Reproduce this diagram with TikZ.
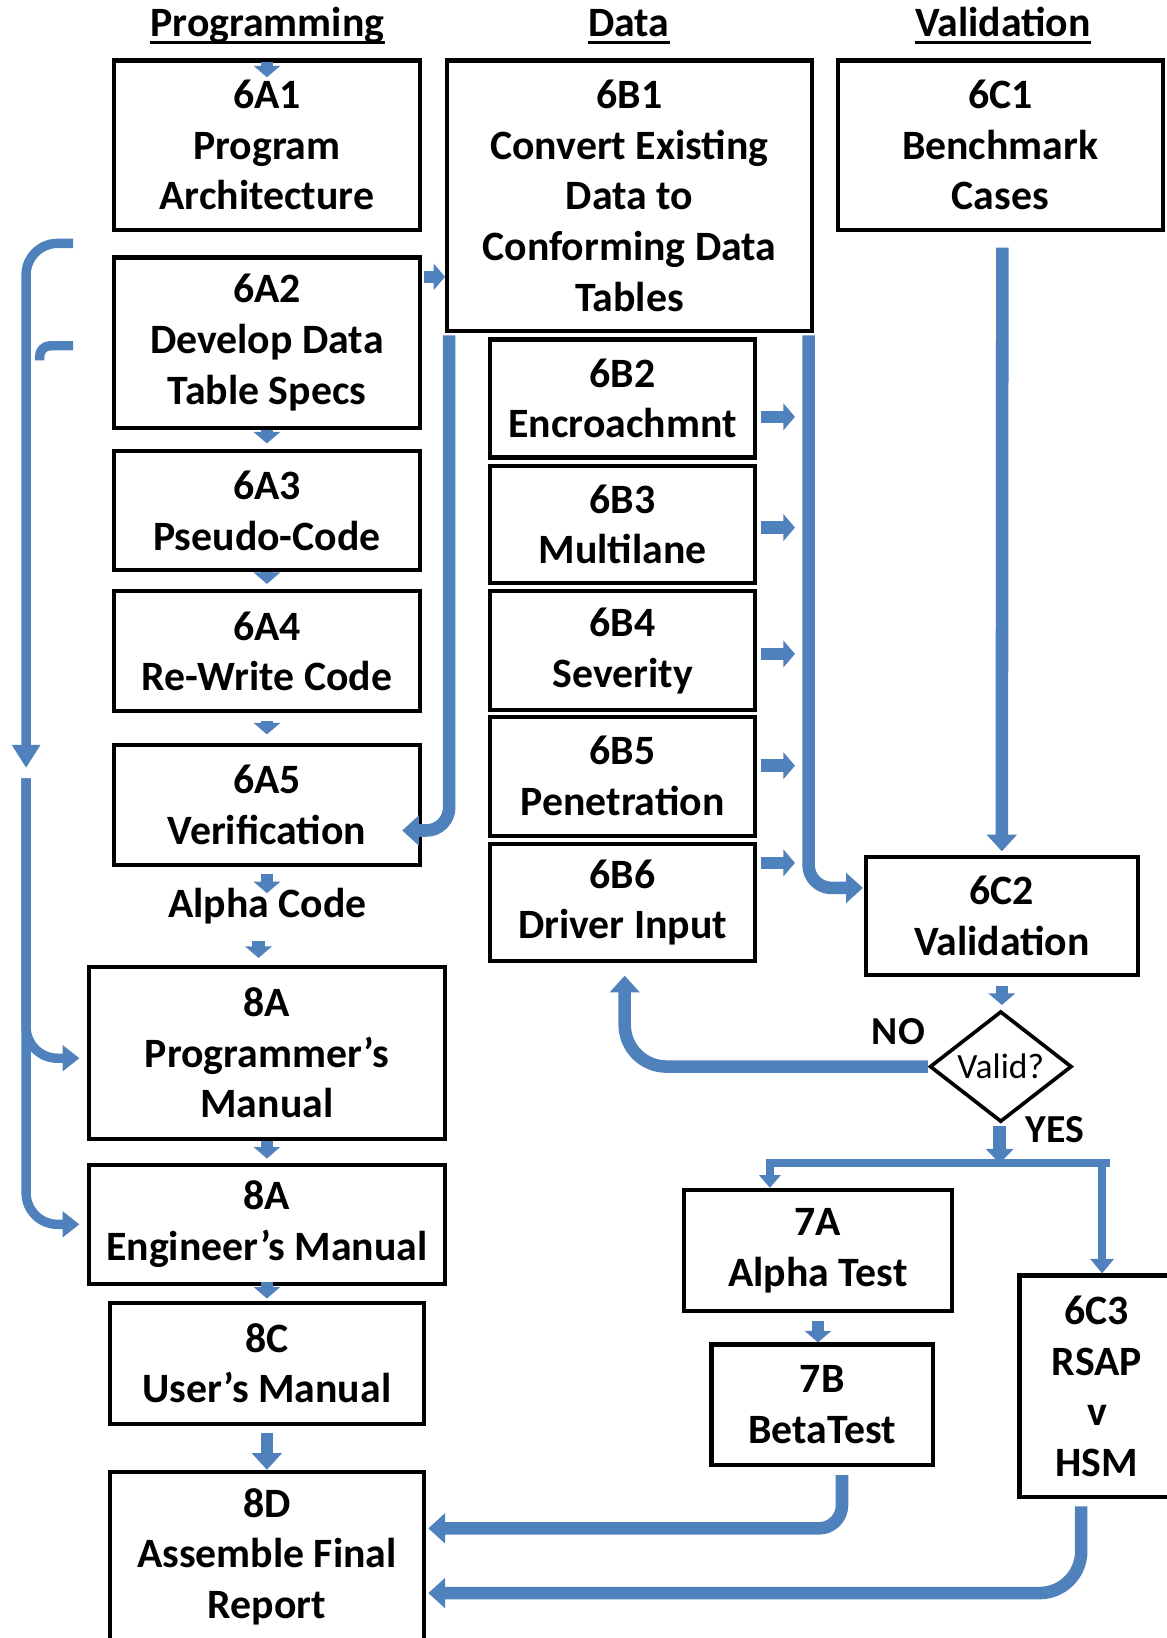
\documentclass[tikz,border=0pt]{standalone}
\usepackage{fontspec}
\setmainfont{Carlito}
\usetikzlibrary{arrows.meta,shapes.geometric,calc}
\definecolor{ob}{HTML}{4F81BD}
\begin{document}
\begin{tikzpicture}[x=1pt,y=-1pt,
 box/.style={draw=black,line width=4pt,align=center,inner sep=0pt,font=\fontsize{40}{48.5}\selectfont\bfseries},
 hdr/.style={font=\fontsize{40}{48}\selectfont\bfseries,inner sep=0pt,anchor=base},
 lbl/.style={font=\fontsize{38}{44}\selectfont\bfseries,inner sep=0pt},
 stub/.style={draw=ob,line width=12pt,-{Triangle[width=25pt,length=11pt]}},
 flow/.style={draw=ob,line width=12pt,rounded corners=22pt,-{Triangle[width=28pt,length=16pt]}},
 brk/.style={draw=ob,line width=9pt,rounded corners=30pt},
 branch/.style={draw=ob,line width=8pt},
]
\fill[white] (0,0) rectangle (1117,1568);
\useasboundingbox (0,0) rectangle (1117,1568);

% headers
\node[hdr] (hp) at (256,35) {Programming};
\node[hdr] (hd) at (602,35) {Data};
\node[hdr] (hv) at (960,35) {Validation};
\foreach \h in {hp,hd,hv}{\draw[line width=3pt] ([yshift=-6pt]\h.base west) -- ([yshift=-6pt]\h.base east);}

% programming column
\node[box,minimum width=293pt,minimum height=162pt] (a1) at (255.5,139) {6A1\\Program\\Architecture};
\node[box,minimum width=293pt,minimum height=163pt] (a2) at (255.5,328) {6A2\\Develop Data\\Table Specs};
\node[box,minimum width=293pt,minimum height=114pt] (a3) at (255.5,489) {6A3\\Pseudo-Code};
\node[box,minimum width=293pt,minimum height=115pt] (a4) at (255.5,623.5) {6A4\\Re-Write Code};
\node[box,minimum width=293pt,minimum height=115pt] (a5) at (255.5,770.5) {6A5\\Verification};
\node[hdr,anchor=center] (ac) at (256,867) {Alpha Code};
\node[box,minimum width=341pt,minimum height=164pt] (pm) at (255.5,1008) {8A\\Programmer’s\\Manual};
\node[box,minimum width=341pt,minimum height=114pt] (em) at (255.5,1172) {8A\\Engineer’s Manual};
\node[box,minimum width=301pt,minimum height=116pt] (um) at (255.5,1305) {8C\\User’s Manual};
\node[box,minimum width=301pt,minimum height=162pt] (fr) at (255.5,1490) {8D\\Assemble Final\\Report};

% data column
\node[box,minimum width=349pt,minimum height=259pt] (b1) at (602.5,187.5) {6B1\\Convert Existing\\Data to\\Conforming Data\\Tables};
\node[box,minimum width=254pt,minimum height=113pt] (b2) at (596,381.5) {6B2\\Encroachmnt};
\node[box,minimum width=254pt,minimum height=112pt] (b3) at (596,502) {6B3\\Multilane};
\node[box,minimum width=254pt,minimum height=114pt] (b4) at (596,623) {6B4\\Severity};
\node[box,minimum width=254pt,minimum height=114pt] (b5) at (596,743) {6B5\\Penetration};
\node[box,minimum width=254pt,minimum height=112pt] (b6) at (596,864) {6B6\\Driver Input};

% validation column
\node[box,minimum width=311pt,minimum height=162pt] (c1) at (957.5,139) {6C1\\Benchmark\\Cases};
\node[box,minimum width=260pt,minimum height=113pt] (c2) at (959,876.5) {6C2\\Validation};
\node[draw=black,line width=3.5pt,diamond,inner sep=0pt,minimum width=136pt,minimum height=106pt,font=\fontsize{34}{40}\selectfont] (valid) at (958,1021) {\makebox[0pt]{Valid?}};
\node[lbl] (no) at (860,988) {NO};
\node[lbl] (yes) at (1010,1081) {YES};
\node[box,minimum width=256pt,minimum height=116pt] (t7a) at (783,1197) {7A\\Alpha Test};
\node[box,minimum width=212pt,minimum height=115pt] (t7b) at (787,1344.5) {7B\\BetaTest};
\node[box,minimum width=148pt,minimum height=212pt] (c3) at (1050,1327) {6C3\\RSAP\\v\\HSM};

% left bracket
\coordinate (bt) at (70,233);
\coordinate (bt2) at (70,331);
\coordinate (bk) at (25,735);
\coordinate (bk2) at (25,745);
\draw[brk,-{Triangle[width=26pt,length=22pt]}] (bt) -| (bk);
\draw[brk,rounded corners=10pt] (bt2) -- (38,331) -- (38,345);
\draw[brk,-{Triangle[width=24pt,length=16pt]}] (bk2) |- ([xshift=-7pt,yshift=-5pt]pm.west);
\draw[brk,-{Triangle[width=24pt,length=16pt]}] (bk2) |- ([xshift=-7pt]em.west);

% small stubs, programming column
\draw[stub] ([yshift=-3pt]a1.north) -- ++(0,15);
\draw[stub] (a2.south) -- ++(0,13);
\draw[stub] (a3.south) -- ++(0,11);
\draw[stub] ([yshift=-7pt]a4.south) -- ++(0,13);
\draw[stub] ([yshift=-7pt]a5.south) -- ++(0,18);
\draw[stub] ([xshift=-8pt,yshift=23pt]pm.north) -- ([xshift=-8pt,yshift=7pt]pm.north);
\draw[stub] (pm.south) -- ++(0,17);
\draw[stub] ([yshift=4pt]em.south) -- ++(0,16);
\draw[flow] ([yshift=-7pt]um.south) -- (fr.north);

% 6A2 -> 6B1
\draw[stub] ([xshift=2pt,yshift=63pt]a2.east) -- ([yshift=-77.5pt]b1.west);

% data column outputs
\draw[stub] ([xshift=3pt,yshift=-17.5pt]b2.east) -- ++(33,0);
\draw[stub] ([xshift=3pt,yshift=-3pt]b3.east) -- ++(33,0);
\draw[stub] ([xshift=3pt,yshift=-3pt]b4.east) -- ++(33,0);
\draw[stub] ([xshift=3pt,yshift=10pt]b5.east) -- ++(33,0);
\draw[stub] ([xshift=3pt,yshift=38pt]b6.east) -- ++(33,0);
\draw[flow] ([xshift=4pt,yshift=-2pt]b1.south west) |- ([xshift=-19pt,yshift=-24.5pt]a5.east);
\draw[flow] ([xshift=-5pt,yshift=-2pt]b1.south east) |- ([xshift=-1pt,yshift=26.5pt]c2.west);

% validation column
\draw[flow] ([xshift=2pt,yshift=-15pt]c1.south) -- ([yshift=3pt]c2.north);
\draw[stub] ([yshift=-9pt]c2.south) -- ++(0,18);
\draw[flow,rounded corners=40pt] (valid.west) -| ([xshift=2pt,yshift=-12pt]b6.south);
\draw[flow,-{Triangle[width=26pt,length=14pt]}] ([xshift=-1pt,yshift=-2pt]valid.south) -- ++(0,36);
\coordinate (brl) at (733,1113);
\coordinate (brr) at (1063,1113);
\draw[branch] (brl) -- (brr);
\draw[branch,-{Triangle[width=20pt,length=12pt]}] ([xshift=4pt]brl) -- ([xshift=-46pt]t7a.north);
\draw[branch,-{Triangle[width=22pt,length=14pt]}] ([xshift=-8pt]brr) -- ([xshift=5pt]c3.north);
\draw[stub] ([yshift=-8pt]t7a.south) -- ++(0,20);
\draw[flow] ([xshift=19pt,yshift=-8pt]t7b.south) |- ([xshift=2pt,yshift=27pt]fr.east);
\draw[flow,rounded corners=40pt] ([xshift=-15pt,yshift=-7pt]c3.south) |- ([xshift=2pt,yshift=-35pt]fr.east);
\end{tikzpicture}
\end{document}
